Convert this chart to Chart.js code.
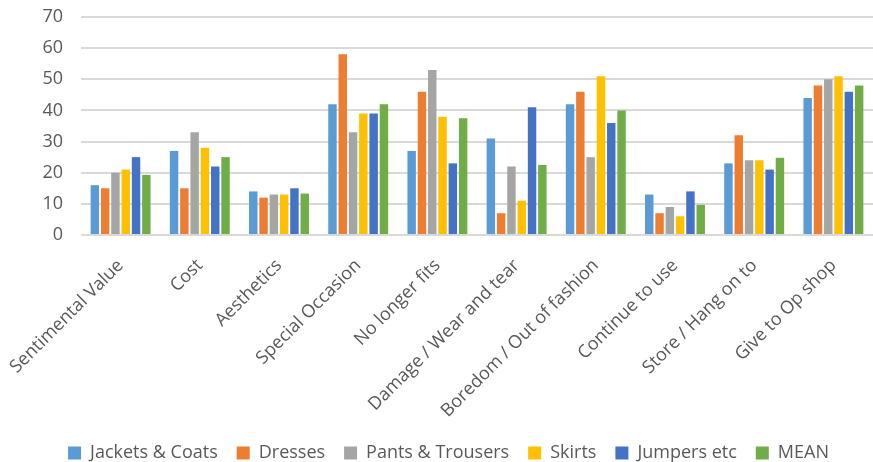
<!DOCTYPE html>
<html>
<head>
<meta charset="utf-8">
<script src="https://cdn.jsdelivr.net/npm/chart.js@4/dist/chart.umd.min.js"></script>
<style>
html,body{margin:0;padding:0;background:#fff;}
#wrap{width:873px;height:462px;}
</style>
</head>
<body>
<div id="wrap"><canvas id="c" width="873" height="462"></canvas></div>
<script>
const categories = ["Sentimental Value","Cost","Aesthetics","Special Occasion","No longer fits","Damage / Wear and tear","Boredom / Out of fashion","Continue to use","Store / Hang on to","Give to Op shop"];
const jacketsCoats   = [16, 27, 14, 42, 27, 31, 42, 13, 23, 44];
const dresses        = [15, 15, 12, 58, 46, 7, 46, 7, 32, 48];
const pantsTrousers  = [20, 33, 13, 33, 53, 22, 25, 9, 24, 50];
const skirts         = [21, 28, 13, 39, 38, 11, 51, 6, 24, 51];
const jumpersEtc     = [25, 22, 15, 39, 23, 41, 36, 14, 21, 46];
const mean           = [19.3, 25, 13.3, 42, 37.5, 22.5, 40, 9.7, 24.8, 48];
const yTicks = [0, 10, 20, 30, 40, 50, 60, 70];

const seriesNames = ["Jackets & Coats","Dresses","Pants & Trousers","Skirts","Jumpers etc","MEAN"];
const seriesData = [jacketsCoats, dresses, pantsTrousers, skirts, jumpersEtc, mean];
const colors = ["#5B9BD5","#ED7D31","#A5A5A5","#FFC000","#4472C4","#70AD47"];

new Chart(document.getElementById('c'), {
  type: 'bar',
  data: {
    labels: categories,
    datasets: seriesNames.map((n, i) => ({
      label: n,
      data: seriesData[i],
      backgroundColor: colors[i],
      borderWidth: 0,
      barPercentage: 0.82,
      categoryPercentage: 0.78
    }))
  },
  options: {
    responsive: false,
    animation: false,
    layout: { padding: { top: 17, right: 0, left: 24, bottom: -10 } },
    plugins: {
      tooltip: { enabled: false },
      legend: {
        position: 'bottom',
        labels: {
          boxWidth: 13, boxHeight: 13, padding: 19,
          color: '#595959',
          font: { family: 'Open Sans', size: 18 }
        }
      }
    },
    scales: {
      x: {
        grid: { display: false, drawTicks: false },
        border: { display: false },
        ticks: {
          color: '#595959', minRotation: 45, maxRotation: 45, autoSkip: false, padding: 20,
          font: { family: 'Open Sans', size: 18 }
        },
        afterFit: (s) => { s.height = 190; s.paddingTop = 0; s.paddingBottom = 0; s.paddingLeft = 0; s.paddingRight = 0; }
      },
      y: {
        min: 0, max: 70,
        afterBuildTicks: (s) => { s.ticks = yTicks.map(v => ({ value: v })); },
        grid: { color: '#d9d9d9', lineWidth: 2, drawTicks: false },
        border: { display: false },
        ticks: {
          color: '#595959', padding: 18,
          font: { family: 'Open Sans', size: 18 }
        },
        afterFit: (s) => { s.width = 57; s.paddingTop = 0; s.paddingBottom = 0; }
      }
    }
  }
});
</script>
</body>
</html>
